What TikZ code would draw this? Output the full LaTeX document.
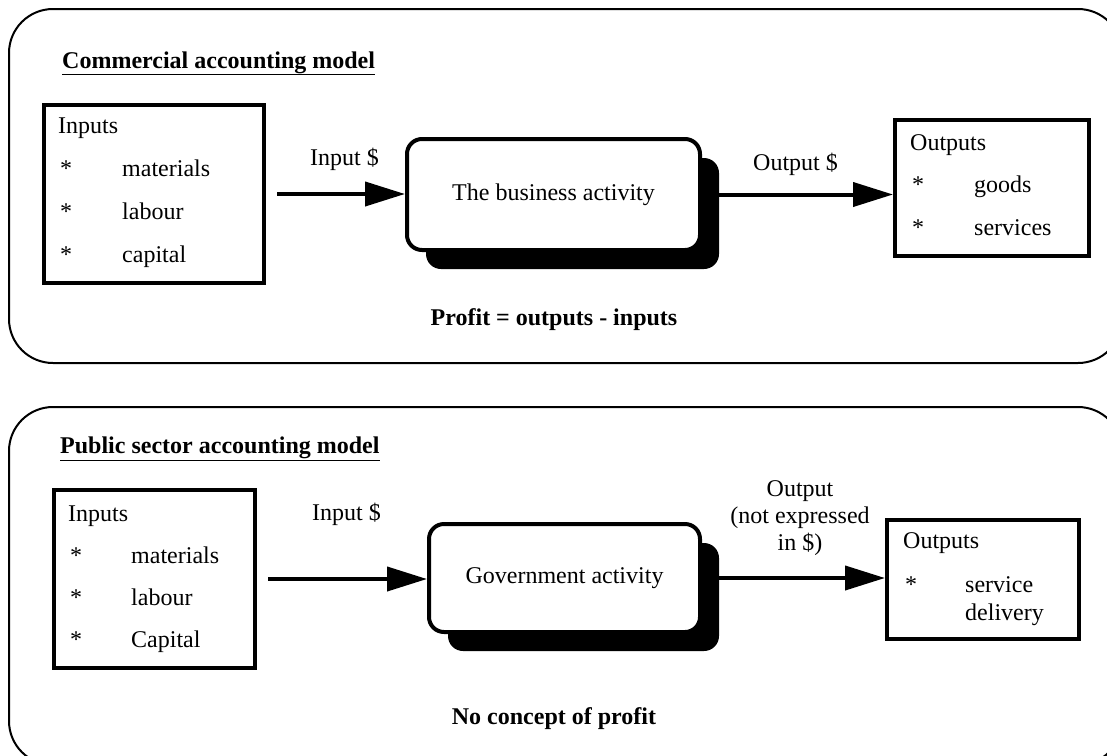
\documentclass[tikz,border=0pt]{standalone}
\usepackage{fontspec}
\setmainfont{Liberation Serif}
\usetikzlibrary{arrows.meta,shadows}
\newcommand\myfs{\fontsize{24}{27}\selectfont}
\begin{document}
\begin{tikzpicture}[x=1pt,y=-1pt,
  panel/.style={draw,line width=2pt,rounded corners=44pt},
  boxin/.style={draw,line width=4pt,anchor=north west,inner sep=0pt},
  act/.style={draw,line width=4pt,rounded corners=15pt,fill=white,anchor=north west,
    inner sep=0pt,font=\myfs,
    drop shadow={shadow xshift=19pt,shadow yshift=-19pt,opacity=1,fill=black}},
  txt/.style={anchor=base west,inner sep=0pt,font=\myfs},
  ctxt/.style={anchor=base,inner sep=0pt,font=\myfs},
  arr/.style={line width=4pt,-{Triangle[length=40pt,width=24pt]}},
]
\useasboundingbox (0,0) rectangle (1107,755);
\begin{scope}
\clip (0,0) rectangle (1107,755);
\draw[panel] (9,9) rectangle (1122,363);
\draw[panel] (9,407) rectangle (1122,765);
\end{scope}

% ---------- top panel ----------
\node[txt,font=\myfs\bfseries] (t1) at (62,68) {\underline{Commercial accounting model}};

\node[boxin,minimum width=220pt,minimum height=178pt] (in1) at (42,103) {};
\node[txt] (in1h) at (58,133) {Inputs};
\node[txt] (in1s1) at (60,176) {*};
\node[txt] (in1a) at (122,176) {materials};
\node[txt] (in1s2) at (60,219) {*};
\node[txt] (in1b) at (122,219) {labour};
\node[txt] (in1s3) at (60,262) {*};
\node[txt] (in1c) at (122,262) {capital};

\node[act,minimum width=293pt,minimum height=111pt] (biz) at (405,137) {The business activity};

\node[boxin,minimum width=194pt,minimum height=136pt] (out1) at (893,118) {};
\node[txt] (out1h) at (910,150) {Outputs};
\node[txt] (out1s1) at (912,192) {*};
\node[txt] (out1a) at (974,192) {goods};
\node[txt] (out1s2) at (912,235) {*};
\node[txt] (out1b) at (974,235) {services};

\draw[arr,shorten <=11pt] (in1.east) -- (in1.east -| biz.west);
\draw[arr] (biz.east) -- (biz.east -| out1.west);
\node[txt] (l1) at (310,165) {Input \$};
\node[txt] (l2) at (753,170) {Output \$};

\node[ctxt,font=\myfs\bfseries] (p1) at (554,325) {Profit = outputs - inputs};

% ---------- bottom panel ----------
\node[txt,font=\myfs\bfseries] (t2) at (60,453) {\underline{Public sector accounting model}};

\node[boxin,minimum width=201pt,minimum height=178pt] (in2) at (52,488) {};
\node[txt] (in2h) at (68,521) {Inputs};
\node[txt] (in2s1) at (70,563) {*};
\node[txt] (in2a) at (131,563) {materials};
\node[txt] (in2s2) at (70,605) {*};
\node[txt] (in2b) at (131,605) {labour};
\node[txt] (in2s3) at (70,647) {*};
\node[txt] (in2c) at (131,647) {Capital};

\node[act,minimum width=271pt,minimum height=108pt] (gov) at (427,522) {Government activity};

\node[boxin,minimum width=192pt,minimum height=119pt] (out2) at (885,518) {};
\node[txt] (out2h) at (903,548) {Outputs};
\node[txt] (out2s1) at (905,592) {*};
\node[txt,align=left] (out2a) at (965,592) {service};
\node[txt] (out2b) at (965,620) {delivery};

\draw[arr,shorten <=11pt] (in2.east) -- (in2.east -| gov.west);
\draw[arr] (gov.east) -- (gov.east -| out2.west);
\node[txt] (l3) at (312,520) {Input \$};
\node[anchor=center,inner sep=0pt,font=\myfs,align=center] (l4) at (800,518) {Output\\(not expressed\\in \$)};

\node[ctxt,font=\myfs\bfseries] (p2) at (554,724) {No concept of profit};
\end{tikzpicture}
\end{document}
